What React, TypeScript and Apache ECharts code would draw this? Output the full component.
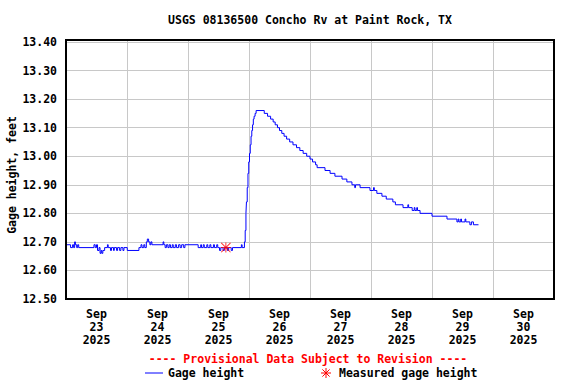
import React, { useEffect, useRef } from 'react';
import * as echarts from 'echarts';

// Hours since Sep 23 2025 00:00 and gage height (ft)
const gageHours = [
  0, 1.8, 2.6, 3.0, 3.4, 3.7, 4.2, 4.6, 5.0, 11.0, 11.5, 12.0, 12.4, 13.0, 13.4, 13.8, 14.1, 14.5, 15.2, 16.3,
  16.6, 17.5, 17.9, 18.7, 19.0, 19.9, 20.3, 21.1, 21.6, 22.4, 22.8, 24.1, 28.7, 29.5, 29.9, 30.6, 31.0, 31.6, 32.0, 32.5,
  33.0, 33.4, 33.8, 38.2, 38.5, 39.0, 39.5, 40.1, 40.6, 41.1, 41.8, 42.2, 43.0, 43.5, 44.3, 44.9, 45.5, 46.3, 46.8, 52.0,
  53.0, 53.3, 54.0, 54.4, 55.4, 55.8, 56.6, 57.0, 58.0, 58.4, 59.3, 59.7, 60.4, 60.9, 61.8, 62.3, 63.5, 64.0, 65.0, 65.5,
  69.0, 69.3, 70.2, 70.5, 70.8, 71.0, 71.3, 71.6, 71.9, 72.2, 72.5, 72.8, 73.1, 73.4, 73.7, 74.0, 74.4, 74.8,
  78.0, 79.3, 80.5, 81.5, 82.3, 83.2, 84.0, 84.9, 85.8, 86.8, 88.0, 89.3, 90.7, 92.0, 93.3, 94.7, 96.0, 97.0, 98.2, 98.8,
  101.9, 103.9, 105.8, 108.6, 110.5, 112.5, 113.6, 113.9, 115.7, 119.6, 121.0, 121.3, 122.3, 124.3, 126.0, 128.6, 129.6, 132.6, 134.5, 134.8,
  136.2, 137.0, 137.3, 138.0, 138.3, 139.3, 144.0, 149.9, 153.8, 154.3, 154.6, 155.3, 155.6, 157.0, 157.3, 158.9, 159.5, 160.3, 162.3,
];
const gageValues = [
  12.69, 12.68, 12.69, 12.68, 12.70, 12.69, 12.68, 12.69, 12.68, 12.69, 12.68, 12.69, 12.67, 12.68, 12.66, 12.67, 12.66, 12.67, 12.68, 12.69,
  12.68, 12.67, 12.68, 12.67, 12.68, 12.67, 12.68, 12.67, 12.68, 12.67, 12.68, 12.67, 12.68, 12.69, 12.68, 12.69, 12.68, 12.70, 12.71, 12.70,
  12.69, 12.70, 12.69, 12.70, 12.69, 12.68, 12.69, 12.68, 12.69, 12.68, 12.69, 12.68, 12.69, 12.68, 12.69, 12.68, 12.69, 12.68, 12.69, 12.68,
  12.69, 12.68, 12.69, 12.68, 12.69, 12.68, 12.69, 12.68, 12.69, 12.68, 12.69, 12.68, 12.67, 12.68, 12.67, 12.68, 12.67, 12.68, 12.67, 12.68,
  12.69, 12.68, 12.70, 12.74, 12.80, 12.84, 12.89, 12.94, 12.98, 13.01, 13.04, 13.07, 13.09, 13.11, 13.13, 13.14, 13.15, 13.16,
  13.15, 13.14, 13.13, 13.12, 13.11, 13.10, 13.09, 13.08, 13.07, 13.06, 13.05, 13.04, 13.03, 13.02, 13.01, 13.00, 12.99, 12.98, 12.97, 12.96,
  12.95, 12.94, 12.93, 12.92, 12.91, 12.90, 12.89, 12.90, 12.89, 12.88, 12.89, 12.88, 12.87, 12.86, 12.85, 12.84, 12.83, 12.82, 12.83, 12.82,
  12.81, 12.82, 12.81, 12.82, 12.81, 12.80, 12.79, 12.78, 12.77, 12.78, 12.77, 12.78, 12.77, 12.78, 12.77, 12.76, 12.77, 12.76, 12.76,
];

const measuredHours = [62.9];
const measuredValues = [12.68];

const dayLabels = [
  'Sep\n23\n2025', 'Sep\n24\n2025', 'Sep\n25\n2025', 'Sep\n26\n2025',
  'Sep\n27\n2025', 'Sep\n28\n2025', 'Sep\n29\n2025', 'Sep\n30\n2025',
];

const titleText = 'USGS 08136500 Concho Rv at Paint Rock, TX';
const yAxisTitle = 'Gage height, feet';
const provisionalText = '---- Provisional Data Subject to Revision ----';
const legendGage = 'Gage height';
const legendMeasured = 'Measured gage height';

const FONT = '"DejaVu Sans Mono", "Liberation Mono", monospace';
const FS = 11.5;

const asteriskPath =
  'path://M9 0H11V20H9Z M0 9H20V11H0Z M1.4 0L20 18.6L18.6 20L0 1.4Z M18.6 0L20 1.4L1.4 20L0 18.6Z';

export default function App() {
  const ref = useRef<HTMLDivElement>(null);

  useEffect(() => {
    if (!ref.current) return;
    const chart = echarts.init(ref.current, undefined, { renderer: 'svg' });
    const gageData = gageHours.map((h, i) => [h, gageValues[i]]);
    const measuredData = measuredHours.map((h, i) => [h, measuredValues[i]]);
    const textStyle = (extra: any) => ({
      fontFamily: FONT,
      fontSize: FS,
      fontWeight: 'bold',
      fill: '#000',
      ...extra,
    });
    const ax = 326, ay = 373, ar = 5;
    chart.setOption({
      animation: false,
      backgroundColor: '#fff',
      grid: { left: 66, top: 40, width: 488, height: 259, containLabel: false },
      xAxis: [
        {
          type: 'value',
          min: 0,
          max: 192,
          interval: 24,
          axisLine: { show: false },
          axisTick: { show: false },
          axisLabel: { show: false },
          splitLine: { show: true, lineStyle: { color: '#c8c8c8', width: 1 } },
        },
        {
          type: 'category',
          position: 'bottom',
          data: dayLabels,
          boundaryGap: true,
          axisLine: { show: false },
          axisTick: { show: false },
          splitLine: { show: false },
          axisLabel: {
            margin: 8,
            color: '#000',
            fontFamily: FONT,
            fontSize: FS,
            fontWeight: 'bold',
            lineHeight: 13,
            interval: 0,
          },
        },
      ],
      yAxis: {
        type: 'value',
        min: 12.5,
        max: 13.407,
        interval: 0.1,
        axisLine: { show: false },
        axisTick: { show: false },
        splitLine: { show: true, lineStyle: { color: '#c8c8c8', width: 1 } },
        axisLabel: {
          margin: 9,
          color: '#000',
          fontFamily: FONT,
          fontSize: FS,
          fontWeight: 'bold',
          showMaxLabel: false,
          formatter: (v: number) =>
            Math.abs(v * 10 - Math.round(v * 10)) < 1e-6 ? v.toFixed(2) : '',
        },
      },
      series: [
        {
          type: 'line',
          xAxisIndex: 0,
          data: gageData,
          step: 'end',
          showSymbol: false,
          symbol: 'none',
          lineStyle: { color: '#0000ff', width: 1 },
          z: 3,
        },
        {
          type: 'scatter',
          xAxisIndex: 0,
          data: measuredData,
          symbol: asteriskPath,
          symbolSize: 10,
          itemStyle: { color: '#ff0000' },
          z: 4,
        },
      ],
      graphic: [
        {
          type: 'rect',
          shape: { x: 66, y: 40, width: 488, height: 259 },
          style: { fill: 'none', stroke: '#000', lineWidth: 2 },
          z: 100,
          silent: true,
        },
        {
          type: 'text',
          x: 310,
          y: 20,
          style: textStyle({ text: titleText, textAlign: 'center', textVerticalAlign: 'middle' }),
        },
        {
          type: 'text',
          x: 12,
          y: 175,
          rotation: Math.PI / 2,
          style: textStyle({ text: yAxisTitle, textAlign: 'center', textVerticalAlign: 'middle' }),
        },
        {
          type: 'text',
          x: 308,
          y: 359,
          style: textStyle({ text: provisionalText, fill: '#ff0000', textAlign: 'center', textVerticalAlign: 'middle' }),
        },
        {
          type: 'line',
          shape: { x1: 145, y1: 373, x2: 163, y2: 373 },
          style: { stroke: '#0000ff', lineWidth: 1 },
        },
        {
          type: 'text',
          x: 168,
          y: 373,
          style: textStyle({ text: legendGage, textAlign: 'left', textVerticalAlign: 'middle' }),
        },
        { type: 'line', shape: { x1: ax, y1: ay - ar, x2: ax, y2: ay + ar }, style: { stroke: '#ff0000', lineWidth: 1 } },
        { type: 'line', shape: { x1: ax - ar, y1: ay, x2: ax + ar, y2: ay }, style: { stroke: '#ff0000', lineWidth: 1 } },
        { type: 'line', shape: { x1: ax - 3.6, y1: ay - 3.6, x2: ax + 3.6, y2: ay + 3.6 }, style: { stroke: '#ff0000', lineWidth: 1 } },
        { type: 'line', shape: { x1: ax - 3.6, y1: ay + 3.6, x2: ax + 3.6, y2: ay - 3.6 }, style: { stroke: '#ff0000', lineWidth: 1 } },
        {
          type: 'text',
          x: 339,
          y: 373,
          style: textStyle({ text: legendMeasured, textAlign: 'left', textVerticalAlign: 'middle' }),
        },
      ],
    });
    return () => chart.dispose();
  }, []);

  return (
    <div
      ref={ref}
      style={{ position: 'fixed', left: 0, top: 0, width: 576, height: 384, background: '#fff' }}
    />
  );
}
